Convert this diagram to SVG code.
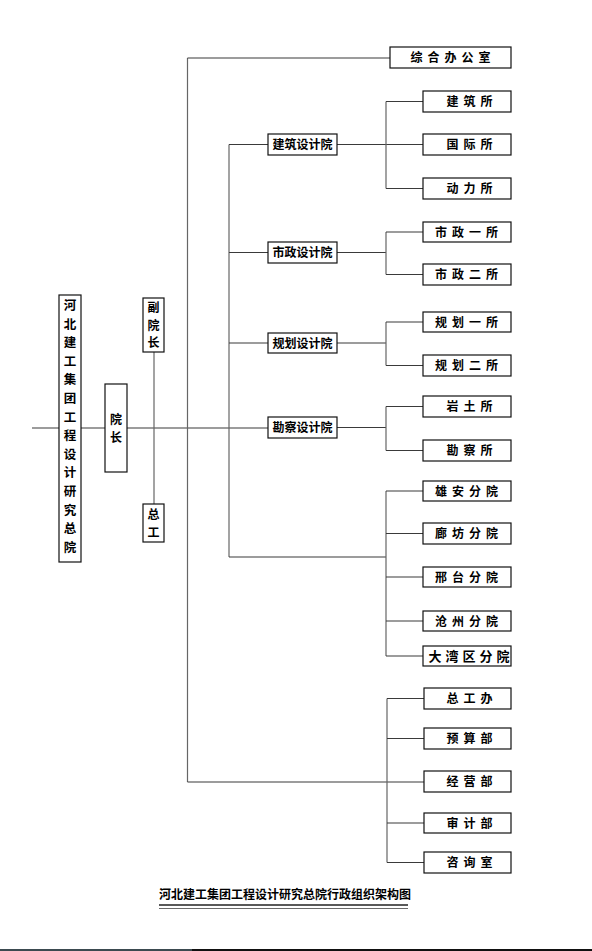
<svg xmlns="http://www.w3.org/2000/svg" width="592" height="951" viewBox="0 0 592 951">
<style>
.b{fill:#fff;stroke:#111;stroke-width:1.2}
.t{font-family:"Noto Sans CJK SC","Noto Sans CJK JP",sans-serif;font-weight:700;font-size:12px;fill:#000;text-anchor:middle}
.s{letter-spacing:5px}
.c{fill:none;stroke:#3a3a3a;stroke-width:1.2}
.g{fill:none;stroke:#666;stroke-width:1.2}
</style>
<rect width="592" height="951" fill="#fff"/>
<g id="connectors">
<path class="c" d="M32,428H268"/>
<path class="g" d="M154,352V504"/>
<path class="g" d="M187.5,58V782"/>
<path class="c" d="M187.5,58H390M187.5,782H424"/>
<path class="g" d="M229,144.5V557"/>
<path class="c" d="M229,144.5H268M229,252.5H268M229,343H268M229,557H386"/>
<path class="c" d="M337,144.5H423M337,252.5H386M337,343H386M337,427.5H386"/>
<path class="g" d="M386,101.5V188.5M386,232V274.5M386,322V365.5M386,406.5V450.5M386,491V656M387,698.5V862.5"/>
<path class="c" d="M386,101.5H423M386,188.5H423M386,232H423M386,274.5H423M386,322H423M386,365.5H423M386,406.5H423M386,450.5H423"/>
<path class="c" d="M386,491H423M386,533.5H423M386,577H423M386,621H423M386,656H423"/>
<path class="c" d="M387,698.5H424M387,738.5H424M387,823H424M387,862.5H424"/>
</g>
<g id="n-main"><rect class="b" x="59" y="295" width="22" height="267"/>
<text class="t" style="font-size:12.5px"><tspan x="70" y="310">河</tspan><tspan x="70" dy="18.6">北</tspan><tspan x="70" dy="18.6">建</tspan><tspan x="70" dy="18.6">工</tspan><tspan x="70" dy="18.6">集</tspan><tspan x="70" dy="18.6">团</tspan><tspan x="70" dy="18.6">工</tspan><tspan x="70" dy="18.6">程</tspan><tspan x="70" dy="18.6">设</tspan><tspan x="70" dy="18.6">计</tspan><tspan x="70" dy="18.6">研</tspan><tspan x="70" dy="18.6">究</tspan><tspan x="70" dy="18.6">总</tspan><tspan x="70" dy="18.6">院</tspan></text></g>
<g id="n-yz"><rect class="b" x="105" y="384" width="22" height="88"/>
<text class="t"><tspan x="116" y="424">院</tspan><tspan x="116" dy="17.5">长</tspan></text></g>
<g id="n-fyz"><rect class="b" x="143" y="298" width="21" height="54"/>
<text class="t"><tspan x="153.5" y="312">副</tspan><tspan x="153.5" dy="17.5">院</tspan><tspan x="153.5" dy="17.5">长</tspan></text></g>
<g id="n-zg"><rect class="b" x="143" y="504" width="21" height="38"/>
<text class="t"><tspan x="153.5" y="519">总</tspan><tspan x="153.5" dy="17.5">工</tspan></text></g>
<g id="n-zhbgs"><rect class="b" x="390" y="47" width="121" height="21"/><text class="t s" x="453" y="62">综合办公室</text></g>
<g id="n-jzsjy"><rect class="b" x="268" y="134" width="69" height="21"/><text class="t" x="302.5" y="149">建筑设计院</text></g>
<g id="n-szsjy"><rect class="b" x="268" y="242" width="69" height="21"/><text class="t" x="302.5" y="257">市政设计院</text></g>
<g id="n-ghsjy"><rect class="b" x="268" y="333" width="69" height="20"/><text class="t" x="302.5" y="347.5">规划设计院</text></g>
<g id="n-kcsjy"><rect class="b" x="268" y="417" width="69" height="21"/><text class="t" x="302.5" y="432">勘察设计院</text></g>
<g id="n-jzs"><rect class="b" x="423" y="91" width="88" height="21"/><text class="t s" x="472" y="106">建筑所</text></g>
<g id="n-gjs"><rect class="b" x="423" y="134" width="88" height="21"/><text class="t s" x="472" y="149">国际所</text></g>
<g id="n-dls"><rect class="b" x="423" y="178" width="88" height="21"/><text class="t s" x="472" y="193">动力所</text></g>
<g id="n-sz1"><rect class="b" x="423" y="222" width="88" height="20"/><text class="t s" x="469" y="236.5">市政一所</text></g>
<g id="n-sz2"><rect class="b" x="423" y="264" width="88" height="21"/><text class="t s" x="469" y="279">市政二所</text></g>
<g id="n-gh1"><rect class="b" x="423" y="312" width="88" height="20"/><text class="t s" x="469" y="326.5">规划一所</text></g>
<g id="n-gh2"><rect class="b" x="423" y="355" width="88" height="21"/><text class="t s" x="469" y="370">规划二所</text></g>
<g id="n-yts"><rect class="b" x="423" y="396" width="88" height="21"/><text class="t s" x="472" y="411">岩土所</text></g>
<g id="n-kcs"><rect class="b" x="423" y="440" width="88" height="21"/><text class="t s" x="472" y="455">勘察所</text></g>
<g id="n-xa"><rect class="b" x="423" y="481" width="88" height="20"/><text class="t s" x="469" y="495.5">雄安分院</text></g>
<g id="n-lf"><rect class="b" x="423" y="523" width="88" height="21"/><text class="t s" x="469" y="538">廊坊分院</text></g>
<g id="n-xt"><rect class="b" x="423" y="567" width="88" height="20"/><text class="t s" x="469" y="581.5">邢台分院</text></g>
<g id="n-cz"><rect class="b" x="423" y="611" width="88" height="20"/><text class="t s" x="469" y="625.5">沧州分院</text></g>
<g id="n-dwq"><rect class="b" x="423" y="646" width="88" height="20"/><text class="t" style="letter-spacing:4px;font-size:13px" x="471" y="661">大湾区分院</text></g>
<g id="n-zgb"><rect class="b" x="424" y="688" width="87" height="21"/><text class="t s" x="472" y="703">总工办</text></g>
<g id="n-ysb"><rect class="b" x="424" y="728" width="87" height="21"/><text class="t s" x="472" y="743">预算部</text></g>
<g id="n-jyb"><rect class="b" x="424" y="771" width="87" height="21"/><text class="t s" x="472" y="786">经营部</text></g>
<g id="n-sjb"><rect class="b" x="424" y="813" width="87" height="20"/><text class="t s" x="472" y="827.5">审计部</text></g>
<g id="n-zxs"><rect class="b" x="424" y="852" width="87" height="21"/><text class="t s" x="472" y="867">咨询室</text></g>
<g id="title">
<text class="t" x="285" y="899">河北建工集团工程设计研究总院行政组织架构图</text>
<path d="M159,905H408" stroke="#222" stroke-width="1.6"/>
<path d="M159,908.5H408" stroke="#444" stroke-width="0.8"/>
</g>
<rect x="0" y="949" width="192" height="2" fill="#3b4a50"/>
<rect x="192" y="949" width="400" height="2" fill="#111"/>
</svg>
